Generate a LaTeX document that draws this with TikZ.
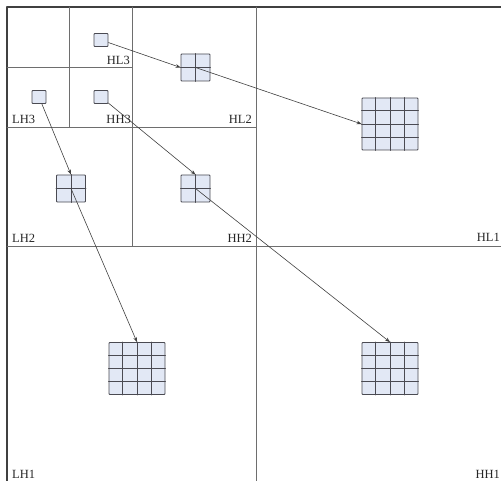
\documentclass[tikz,border=0pt]{standalone}
\usepackage{fontspec}
\setmainfont{Liberation Serif}
\usetikzlibrary{calc,arrows.meta}
\definecolor{cellfill}{HTML}{E2E8F5}
\definecolor{edgegray}{HTML}{6E6E6E}
\definecolor{gridgray}{HTML}{4A4A52}
\begin{document}
\begin{tikzpicture}[line cap=round,line join=round,>={Stealth[length=5bp,width=3.6bp]},x=1bp,y=-1bp,
  band/.style={draw=edgegray,line width=0.9bp},
  cell/.style={draw=gridgray,fill=cellfill,line width=0.8bp,rounded corners=0.8bp,inner sep=0pt},
  gridline/.style={draw=gridgray,line width=0.9bp},
  link/.style={->,draw=black!75,line width=0.6bp},
  tag/.style={inner sep=0pt,text=black!85,font=\fontsize{12.5bp}{14bp}\selectfont}]
\useasboundingbox (0,0) rectangle (501,481);
% subband borders
\draw[band,draw=black!75,line width=1.5bp] (7,481)--(7,7)--(501,7);
\draw[band] (256,7)--(256,481);
\draw[band] (7,246)--(501,246);
\draw[band] (132,7)--(132,246);
\draw[band] (7,127)--(256,127);
\draw[band] (69,7)--(69,127);
\draw[band] (7,67)--(132,67);
% labels
\node[tag,anchor=base east] (hl3) at (130,65) {HL3};
\node[tag,anchor=base west] (lh3) at (12,124) {LH3};
\node[tag,anchor=base east] (hh3) at (131,124) {HH3};
\node[tag,anchor=base east] (hl2) at (252,124) {HL2};
\node[tag,anchor=base west] (lh2) at (12,242) {LH2};
\node[tag,anchor=base east] (hh2) at (252,242) {HH2};
\node[tag,anchor=base east] (hl1) at (500,241) {HL1};
\node[tag,anchor=base west] (lh1) at (12,478) {LH1};
\node[tag,anchor=base east] (hh1) at (500,478) {HH1};
% coefficients
\node[cell,minimum width=14bp,minimum height=13bp] (hlthree) at (101,40) {};
\node[cell,minimum width=14bp,minimum height=13bp] (lhthree) at (39,97) {};
\node[cell,minimum width=14bp,minimum height=13bp] (hhthree) at (101,97) {};
\node[cell,minimum width=29bp,minimum height=27bp] (hltwo) at (195.5,67.5) {};
\node[cell,minimum width=29bp,minimum height=27bp] (lhtwo) at (71,188.5) {};
\node[cell,minimum width=29bp,minimum height=27bp] (hhtwo) at (195.5,188.5) {};
\node[cell,minimum width=56bp,minimum height=52bp] (hlone) at (390,124) {};
\node[cell,minimum width=56bp,minimum height=52bp] (lhone) at (137,368.5) {};
\node[cell,minimum width=56bp,minimum height=52bp] (hhone) at (390,368.5) {};
\foreach \g/\n/\m in {hltwo/2/1,lhtwo/2/1,hhtwo/2/1,hlone/4/3,lhone/4/3,hhone/4/3}
{
\foreach \i in {1,...,\m}
{
\draw[gridline] ($(\g.north west)!\i/\n!(\g.north east)$)--($(\g.south west)!\i/\n!(\g.south east)$);
\draw[gridline] ($(\g.north west)!\i/\n!(\g.south west)$)--($(\g.north east)!\i/\n!(\g.south east)$);
}
}
% parent -> children
\draw[link] (hlthree)--(hltwo.west);
\draw[link] (hltwo.center)--(hlone.west);
\draw[link] (lhthree)--(lhtwo.north);
\draw[link] (lhtwo.center)--(lhone.north);
\draw[link] (hhthree)--(hhtwo.north);
\draw[link] (hhtwo.center)--(hhone.north);
\end{tikzpicture}
\end{document}
